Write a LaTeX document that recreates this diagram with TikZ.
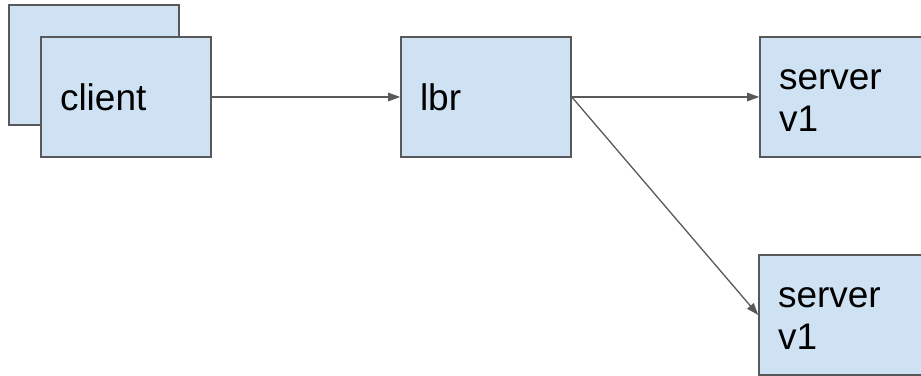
\documentclass[tikz,border=0pt]{standalone}
\usepackage{fontspec}
\setmainfont{Liberation Sans}
\usepackage{tikz}
\usetikzlibrary{arrows.meta}
\definecolor{boxfill}{HTML}{CFE2F3}
\definecolor{boxline}{HTML}{595959}
\tikzset{
  box/.style={draw=boxline, fill=boxfill, line width=1.6pt, rectangle,
    minimum width=170pt, minimum height=120pt, inner xsep=19pt,
    text width=132pt, align=left, font=\fontsize{37}{42}\selectfont},
  twoline/.style={text height=28pt, text depth=42pt},
  conn/.style={draw=boxline, line width=1.3pt, -{Triangle[length=12pt,width=8.5pt]}}
}

\begin{document}
\begin{tikzpicture}[x=1pt,y=1pt]
            \useasboundingbox (0,0) rectangle (921,375);
            \node [box] (clientback) at (94,310) {};
            \node [box] (client) at (126,278) {client};
            \node [box] (lbr) at (486,278) {lbr};
            \node [box, twoline] (serverA) at (845,278) {server\\v1};
            \node [box, twoline] (serverB) at (844,60) {server\\v1};
            \draw [conn] (client.east) to (lbr.west);
            \draw [conn] (lbr.east) to (serverA.west);
            \draw [conn] (lbr.east) to (serverB.west);
        \end{tikzpicture}
\end{document}
